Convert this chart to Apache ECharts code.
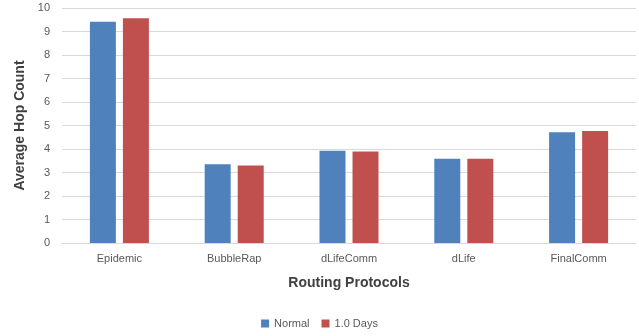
<!DOCTYPE html>
<html>
<head>
<meta charset="utf-8">
<script src="https://cdn.jsdelivr.net/npm/echarts@6/dist/echarts.min.js"></script>
<style>
  html, body { margin: 0; padding: 0; background: #fff; }
  #chart { width: 639px; height: 336px; }
</style>
</head>
<body>
<div id="chart"></div>
<script>
// routing protocols on the x axis
var protocols = ["Epidemic", "BubbleRap", "dLifeComm", "dLife", "FinalComm"];
var normalHops = [9.41, 3.35, 3.93, 3.59, 4.71];
var oneDayHops = [9.56, 3.30, 3.89, 3.59, 4.77];
var yTicks = [0, 1, 2, 3, 4, 5, 6, 7, 8, 9, 10];

var FONT = "Liberation Sans";
var myChart = echarts.init(document.getElementById("chart"));

var option = {
  animation: false,
  textStyle: { fontFamily: FONT },
  grid: { left: 62, right: 3, top: 8, bottom: 93 },
  legend: {
    bottom: 2,
    left: "center",
    itemWidth: 8,
    itemHeight: 8,
    itemGap: 12,
    icon: "rect",
    textStyle: { color: "#595959", fontSize: 11, fontFamily: FONT },
    data: ["Normal", "1.0 Days"]
  },
  xAxis: {
    type: "category",
    data: protocols,
    name: "Routing Protocols",
    nameLocation: "middle",
    nameGap: 33,
    nameTextStyle: { fontWeight: "bold", fontSize: 14, color: "#404040" },
    axisTick: { show: false },
    axisLine: { lineStyle: { color: "#d9d9d9" } },
    axisLabel: { color: "#595959", fontSize: 11, margin: 10 }
  },
  yAxis: {
    type: "value",
    min: yTicks[0],
    max: yTicks[yTicks.length - 1],
    interval: 1,
    name: "Average Hop Count",
    nameLocation: "middle",
    nameGap: 33,
    nameTextStyle: { fontWeight: "bold", fontSize: 14, color: "#404040" },
    axisLine: { show: false },
    axisTick: { show: false },
    axisLabel: { color: "#595959", fontSize: 11, margin: 12 },
    splitLine: { lineStyle: { color: "#d9d9d9" } }
  },
  series: [
    {
      name: "Normal",
      type: "bar",
      data: normalHops,
      barWidth: 26,
      barGap: "27%",
      itemStyle: { color: "#4f81bd" }
    },
    {
      name: "1.0 Days",
      type: "bar",
      data: oneDayHops,
      barWidth: 26,
      itemStyle: { color: "#c0504d" }
    }
  ]
};

myChart.setOption(option);
</script>
</body>
</html>
